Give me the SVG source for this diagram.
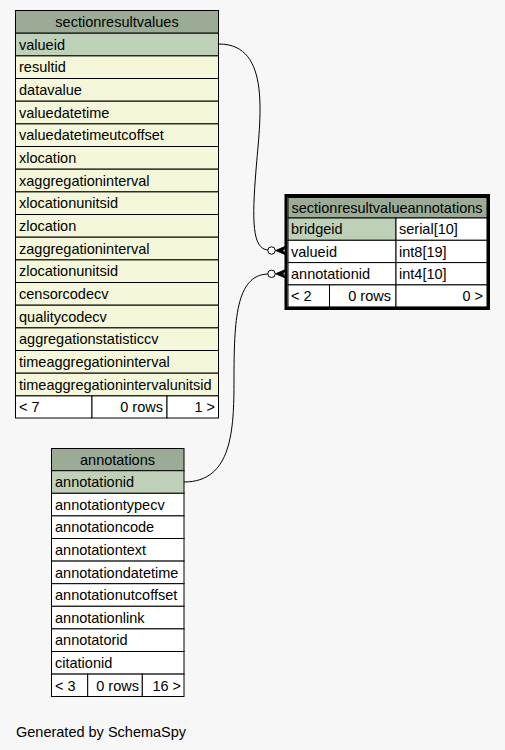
<svg xmlns="http://www.w3.org/2000/svg" width="505" height="750" viewBox="0 0 505 750">
<style>
text{font-family:"Liberation Sans",Arial,sans-serif;font-size:14.5px;fill:#000}
.h{fill:#9bab96;stroke:#000;stroke-width:1}
.pk{fill:#bed1b8;stroke:#000;stroke-width:1}
.y{fill:#f4f7da;stroke:#000;stroke-width:1}
.w{fill:#fff;stroke:#000;stroke-width:1}
.c{text-anchor:middle}
.r{text-anchor:end}
.edge{fill:none;stroke:#000;stroke-width:1}
</style>
<rect width="505" height="750" fill="#f7f7f7"/>
<g id="sectionresultvalues">
<rect class="h" x="15.5" y="10.5" width="203" height="22.7"/>
<text class="c" x="117" y="27">sectionresultvalues</text>
<rect class="pk" x="15.5" y="33.2" width="203" height="22.7"/><text x="19" y="49.7">valueid</text>
<rect class="y" x="15.5" y="55.9" width="203" height="22.7"/><text x="19" y="72.4">resultid</text>
<rect class="y" x="15.5" y="78.5" width="203" height="22.7"/><text x="19" y="95">datavalue</text>
<rect class="y" x="15.5" y="101.2" width="203" height="22.7"/><text x="19" y="117.7">valuedatetime</text>
<rect class="y" x="15.5" y="123.9" width="203" height="22.7"/><text x="19" y="140.4">valuedatetimeutcoffset</text>
<rect class="y" x="15.5" y="146.5" width="203" height="22.7"/><text x="19" y="163">xlocation</text>
<rect class="y" x="15.5" y="169.2" width="203" height="22.7"/><text x="19" y="185.7">xaggregationinterval</text>
<rect class="y" x="15.5" y="191.9" width="203" height="22.7"/><text x="19" y="208.4">xlocationunitsid</text>
<rect class="y" x="15.5" y="214.5" width="203" height="22.7"/><text x="19" y="231">zlocation</text>
<rect class="y" x="15.5" y="237.2" width="203" height="22.7"/><text x="19" y="253.7">zaggregationinterval</text>
<rect class="y" x="15.5" y="259.9" width="203" height="22.7"/><text x="19" y="276.4">zlocationunitsid</text>
<rect class="y" x="15.5" y="282.5" width="203" height="22.7"/><text x="19" y="299">censorcodecv</text>
<rect class="y" x="15.5" y="305.2" width="203" height="22.7"/><text x="19" y="321.7">qualitycodecv</text>
<rect class="y" x="15.5" y="327.9" width="203" height="22.7"/><text x="19" y="344.4">aggregationstatisticcv</text>
<rect class="y" x="15.5" y="350.5" width="203" height="22.7"/><text x="19" y="367">timeaggregationinterval</text>
<rect class="y" x="15.5" y="373.2" width="203" height="22.7"/><text x="19" y="389.7">timeaggregationintervalunitsid</text>
<rect class="w" x="15.5" y="395.9" width="76.5" height="22.1"/>
<rect class="w" x="92" y="395.9" width="75" height="22.1"/>
<rect class="w" x="167" y="395.9" width="51.5" height="22.1"/>
<text x="19" y="412.2">&lt; 7</text>
<text class="r" x="163" y="412.2">0 rows</text>
<text class="r" x="215" y="412.2">1 &gt;</text>
</g>
<g id="sectionresultvalueannotations">
<rect x="286" y="195.5" width="202.5" height="113" fill="#fff" stroke="#000" stroke-width="3"/>
<rect class="h" x="288" y="197.5" width="199" height="20.5"/>
<text class="c" x="387" y="212.5">sectionresultvalueannotations</text>
<rect class="pk" x="288" y="218" width="108" height="22.3"/><text x="291" y="234.3">bridgeid</text>
<rect class="w" x="396" y="218" width="91" height="22.3"/><text x="399" y="234.3">serial[10]</text>
<rect class="w" x="288" y="240.3" width="108" height="22.3"/><text x="291" y="256.6">valueid</text>
<rect class="w" x="396" y="240.3" width="91" height="22.3"/><text x="399" y="256.6">int8[19]</text>
<rect class="w" x="288" y="262.6" width="108" height="22.3"/><text x="291" y="278.9">annotationid</text>
<rect class="w" x="396" y="262.6" width="91" height="22.3"/><text x="399" y="278.9">int4[10]</text>
<rect class="w" x="288" y="284.9" width="41.5" height="22"/>
<rect class="w" x="329.5" y="284.9" width="66.5" height="22"/>
<rect class="w" x="396" y="284.9" width="91" height="22"/>
<text x="291" y="301">&lt; 2</text>
<text class="r" x="391" y="301">0 rows</text>
<text class="r" x="483" y="301">0 &gt;</text>
</g>
<g id="annotations">
<rect class="h" x="51.5" y="448.5" width="132.5" height="22.2"/>
<text class="c" x="117.5" y="465">annotations</text>
<rect class="pk" x="51.5" y="470.7" width="132.5" height="22.6"/><text x="55" y="487.2">annotationid</text>
<rect class="w" x="51.5" y="493.3" width="132.5" height="22.6"/><text x="55" y="509.8">annotationtypecv</text>
<rect class="w" x="51.5" y="515.9" width="132.5" height="22.6"/><text x="55" y="532.4">annotationcode</text>
<rect class="w" x="51.5" y="538.5" width="132.5" height="22.6"/><text x="55" y="555">annotationtext</text>
<rect class="w" x="51.5" y="561.1" width="132.5" height="22.6"/><text x="55" y="577.6">annotationdatetime</text>
<rect class="w" x="51.5" y="583.7" width="132.5" height="22.6"/><text x="55" y="600.2">annotationutcoffset</text>
<rect class="w" x="51.5" y="606.3" width="132.5" height="22.6"/><text x="55" y="622.8">annotationlink</text>
<rect class="w" x="51.5" y="628.9" width="132.5" height="22.6"/><text x="55" y="645.4">annotatorid</text>
<rect class="w" x="51.5" y="651.5" width="132.5" height="22.6"/><text x="55" y="668">citationid</text>
<rect class="w" x="51.5" y="674.1" width="36.2" height="22.4"/>
<rect class="w" x="87.7" y="674.1" width="54.6" height="22.4"/>
<rect class="w" x="142.3" y="674.1" width="41.7" height="22.4"/>
<text x="55" y="690.5">&lt; 3</text>
<text class="r" x="139" y="690.5">0 rows</text>
<text class="r" x="181" y="690.5">16 &gt;</text>
</g>
<g id="connectors">
<path class="edge" d="M219,44 C272,44 260,120 256,170 C252,220 252,249 268,250"/>
<circle cx="271.5" cy="250.5" r="3.7" fill="#fff" stroke="#000"/>
<polygon points="275.5,250.5 286,246 283,250.5 286,255" fill="#000" stroke="#000" stroke-width="0.8"/>
<path class="edge" d="M184,482 C232,482 234,430 234,380 C234,320 236,275 267.8,274"/>
<circle cx="271.5" cy="273.8" r="3.7" fill="#fff" stroke="#000"/>
<polygon points="275.5,273.8 286,269.3 283,273.8 286,278.3" fill="#000" stroke="#000" stroke-width="0.8"/>
</g>
<text x="16" y="737">Generated by SchemaSpy</text>
</svg>
